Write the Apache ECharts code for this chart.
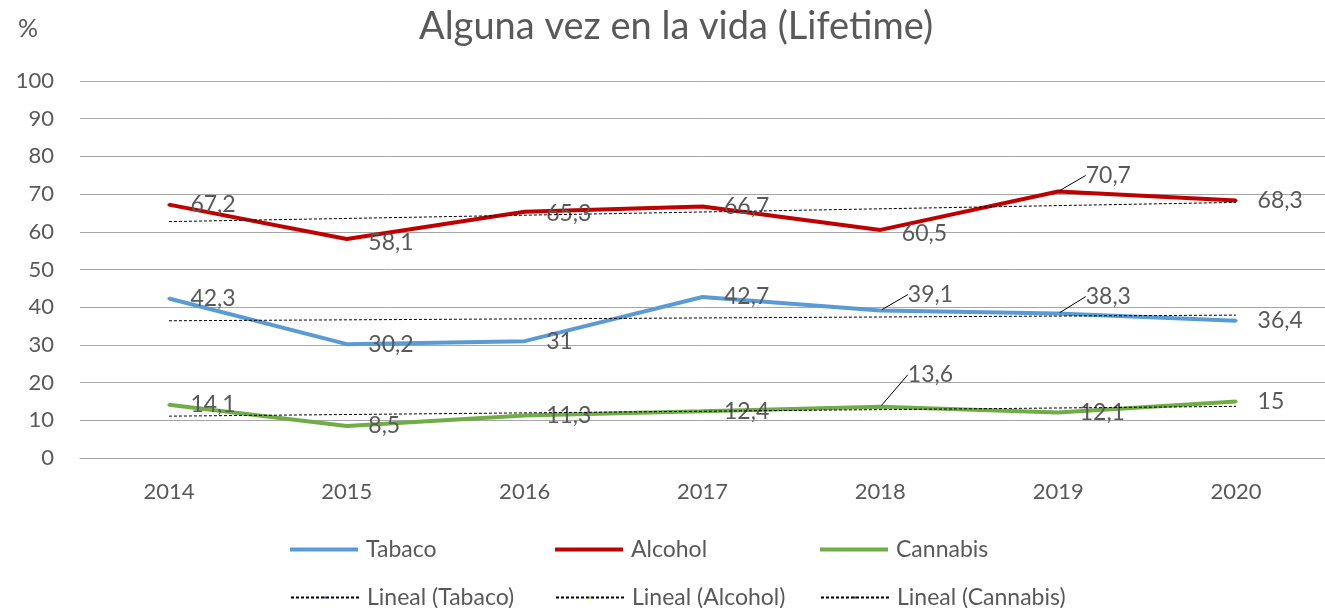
<!DOCTYPE html>
<html>
<head>
<meta charset="utf-8">
<script src="https://cdn.jsdelivr.net/npm/echarts@6/dist/echarts.min.js"></script>
<style>
  html, body { margin: 0; padding: 0; background: #fff; }
  #chart { width: 1325px; height: 608px; }
</style>
</head>
<body>
<div id="chart"></div>
<script>
const years = ['2014', '2015', '2016', '2017', '2018', '2019', '2020'];
const tabaco = [42.3, 30.2, 31, 42.7, 39.1, 38.3, 36.4];
const alcohol = [67.2, 58.1, 65.3, 66.7, 60.5, 70.7, 68.3];
const cannabis = [14.1, 8.5, 11.3, 12.4, 13.6, 12.1, 15];
// trend line ends
const trendTabaco = [36.4, null, null, null, null, null, 37.9];
const trendAlcohol = [62.7, null, null, null, null, null, 67.8];
const trendCannabis = [11.1, null, null, null, null, null, 13.7];
const yTicks = [0, 10, 20, 30, 40, 50, 60, 70, 80, 90, 100];

// labels that Excel pushed up with a leader line
const moved = {
  'Tabaco-4': [6, -16],
  'Tabaco-5': [6, -17],
  'Alcohol-5': [6, -16],
  'Cannabis-4': [6, -32],
  'Alcohol-1': [0, 4],
  'Alcohol-4': [0, 4],
  'Alcohol-2': [0, 2]
};
const leaders = ['Tabaco-4', 'Tabaco-5', 'Alcohol-5', 'Cannabis-4'];

const font = 'Lato, "Open Sans", sans-serif';
const grey = '#595959';

const chart = echarts.init(document.getElementById('chart'), null, { renderer: 'canvas' });

function mainSeries(name, values, color) {
  return {
    name: name,
    type: 'line',
    data: values.map((v, i) => ({
      value: v,
      labelLine: { show: leaders.indexOf(name + '-' + i) >= 0 }
    })),
    symbol: 'circle',
    symbolSize: 3,
    itemStyle: { color: color },
    lineStyle: { color: color, width: 4 },
    z: 3,
    label: {
      show: true,
      position: 'right',
      distance: 20,
      fontFamily: font,
      fontSize: 23,
      color: grey,
      formatter: p => String(p.value).replace('.', ',')
    },
    labelLine: { lineStyle: { color: '#000', width: 1 } },
    labelLayout: function (p) {
      const m = moved[name + '-' + p.dataIndex];
      return m ? { dx: m[0], dy: m[1] } : {};
    },
    emphasis: { disabled: true },
    animation: false
  };
}

function trendSeries(name, values) {
  return {
    name: name,
    type: 'line',
    data: values,
    connectNulls: true,
    symbol: 'none',
    lineStyle: { color: '#000', width: 1, type: [3, 2] },
    z: 4,
    emphasis: { disabled: true },
    animation: false
  };
}

function legendItem(left, top, name, solid) {
  return {
    left: left,
    top: top,
    itemWidth: 68,
    itemHeight: solid ? 4 : 3,
    icon: solid ? 'rect' : undefined,
    itemGap: 8,
    data: [name],
    textStyle: { fontFamily: font, fontSize: 23, color: grey, padding: [0, 0, 0, 3] },
    selectedMode: false
  };
}

const option = {
  backgroundColor: '#fff',
  title: [
    {
      text: 'Alguna vez en la vida (Lifetime)',
      left: 414,
      top: 3,
      textStyle: { fontFamily: font, fontSize: 38, fontWeight: 'normal', color: grey }
    },
    {
      text: '%',
      left: 13,
      top: 11,
      textStyle: { fontFamily: font, fontSize: 25, fontWeight: 'normal', color: grey }
    }
  ],
  grid: { left: 80, right: -3, top: 81, bottom: 150, containLabel: false },
  legend: [
    legendItem(285, 533, 'Tabaco', true),
    legendItem(550, 533, 'Alcohol', true),
    legendItem(815, 533, 'Cannabis', true),
    legendItem(285, 581, 'Lineal (Tabaco)', false),
    legendItem(550, 581, 'Lineal (Alcohol)', false),
    legendItem(815, 581, 'Lineal (Cannabis)', false)
  ],
  xAxis: {
    type: 'category',
    data: years,
    boundaryGap: true,
    axisLine: { show: true, lineStyle: { color: '#a6a6a6', width: 1 } },
    axisTick: { show: false },
    axisLabel: { fontFamily: font, fontSize: 22, color: grey, margin: 23 }
  },
  yAxis: {
    type: 'value',
    min: yTicks[0],
    max: yTicks[yTicks.length - 1],
    interval: 10,
    axisLine: { show: false },
    axisTick: { show: false },
    splitLine: { lineStyle: { color: '#a6a6a6', width: 1 } },
    axisLabel: { fontFamily: font, fontSize: 22, color: grey, margin: 26 }
  },
  series: [
    mainSeries('Tabaco', tabaco, '#5b9bd5'),
    mainSeries('Alcohol', alcohol, '#c00000'),
    mainSeries('Cannabis', cannabis, '#70ad47'),
    trendSeries('Lineal (Tabaco)', trendTabaco),
    trendSeries('Lineal (Alcohol)', trendAlcohol),
    trendSeries('Lineal (Cannabis)', trendCannabis)
  ]
};

chart.setOption(option);
window.addEventListener('resize', () => chart.resize());
</script>
</body>
</html>
